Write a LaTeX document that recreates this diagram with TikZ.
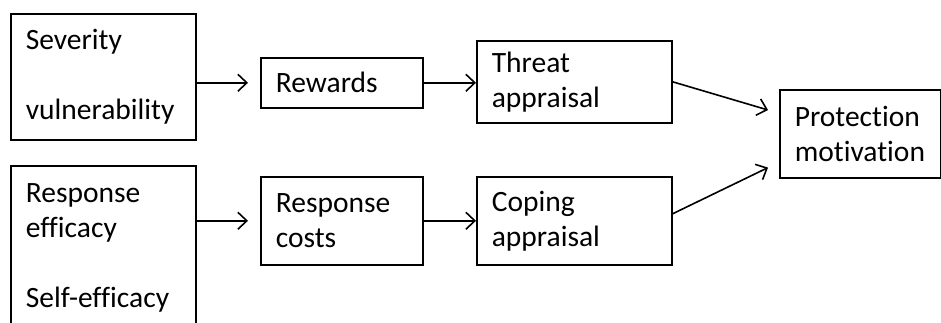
\documentclass[tikz,border=0pt]{standalone}
\usepackage{fontspec}
\setmainfont{Carlito}[Ligatures=NoCommon]
\usepackage{tikz}
\usetikzlibrary{calc,arrows.meta}
\tikzset{>={Straight Barb[length=9pt,width=17pt]}}

\begin{document}
\begin{tikzpicture}[x=1pt, y=-1pt, line width=1.6pt,
    blk/.style={draw, anchor=north west, align=left, inner xsep=15pt, inner ysep=0pt,
      font=\fontsize{29.5}{35}\selectfont}]
      \useasboundingbox (0, 0) rectangle (941, 323);
      \clip (0, 0) rectangle (941, 323);
      \node[blk, text width=155pt, minimum height=126pt] (sev) at (10, 13) {Severity\\[35pt]vulnerability};
      \node[blk, text width=155pt, minimum height=165pt] (eff) at (10, 165) {Response\\efficacy\\[35pt]Self-efficacy};
      \node[blk, text width=132pt, minimum height=50pt] (rew) at (260, 57) {Rewards};
      \node[blk, text width=132pt, minimum height=88pt] (cost) at (260, 176) {Response\\costs};
      \node[blk, text width=165pt, minimum height=82pt] (thr) at (476, 40) {Threat\\appraisal};
      \node[blk, text width=165pt, minimum height=88pt] (cope) at (476, 176) {Coping\\appraisal};
      \node[blk, text width=131pt, minimum height=88pt] (prot) at (779, 89) {Protection\\motivation};
      \draw[->, shorten >=12pt] (sev.east |- rew.west) -- (rew.west);
      \draw[->] (rew.east) -- (rew.east -| thr.west);
      \draw[->, shorten >=12pt] (eff.east |- cost.west) -- (cost.west);
      \draw[->] (cost.east) -- (cost.east -| cope.west);
      \draw[->] (thr.east) -- ($(prot.north west) + (-11, 21)$);
      \draw[->] ($(cope.east) + (0, -7)$) -- ($(prot.south west) + (-11, -11)$);
    \end{tikzpicture}
\end{document}
